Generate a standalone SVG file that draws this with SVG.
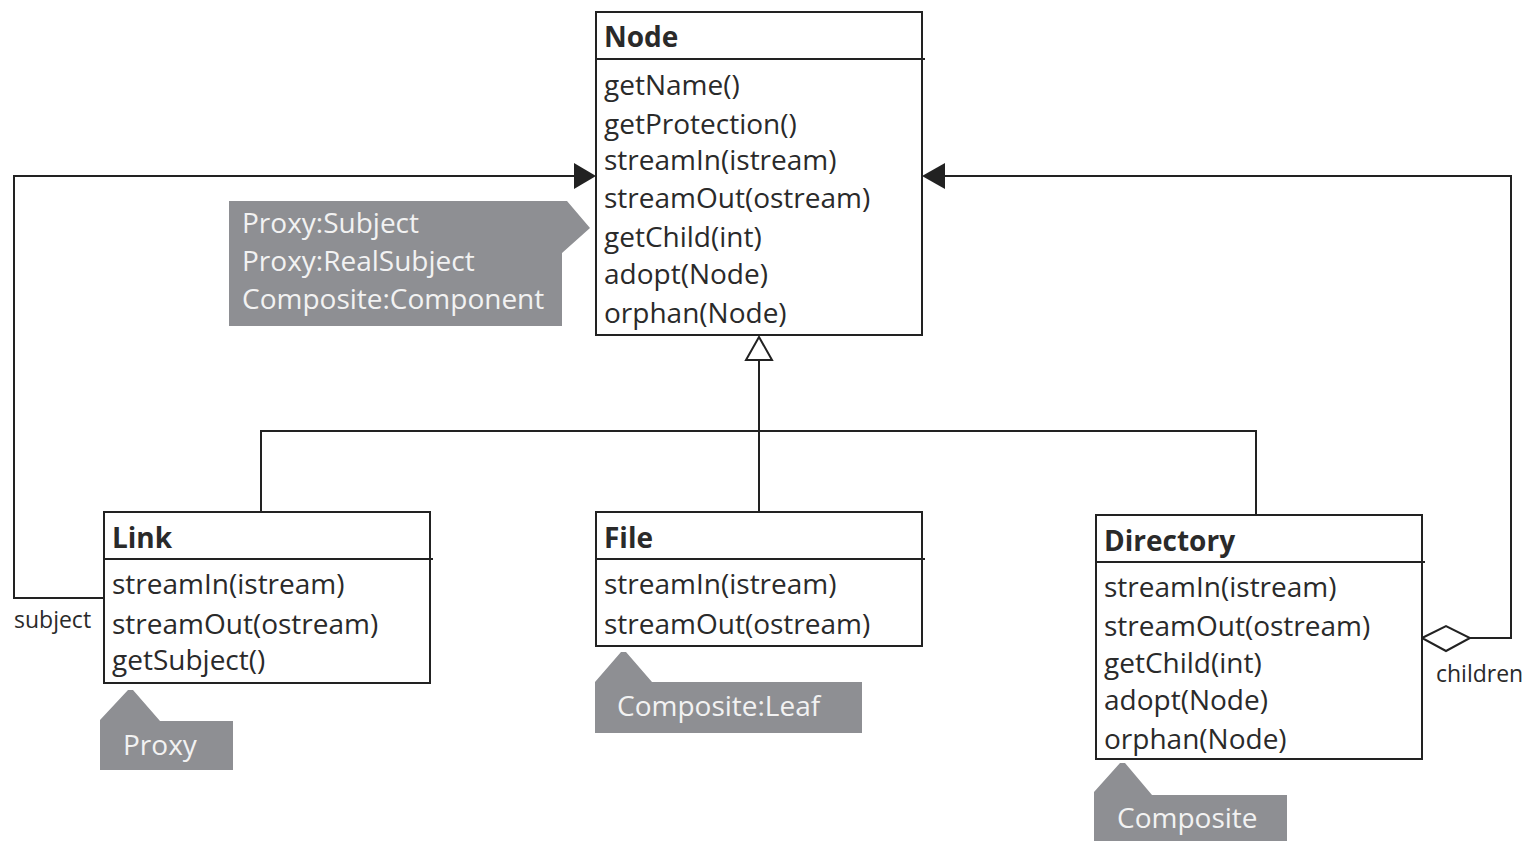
<svg xmlns="http://www.w3.org/2000/svg" width="1532" height="841" viewBox="0 0 1532 841">
<style>
.box{fill:#fff;stroke:#222;stroke-width:2}
.div{stroke:#222;stroke-width:2}
.t{font-family:"Open Sans",sans-serif;font-size:28px;fill:#2a2a2a}
.h{font-family:"Open Sans",sans-serif;font-size:28px;font-weight:bold;fill:#2a2a2a}
.s{font-family:"Open Sans",sans-serif;font-size:23px;fill:#2a2a2a}
.note{fill:#8e8f93}
.nt{font-family:"Open Sans",sans-serif;font-size:28px;fill:#f2f2f2}
.ln{fill:none;stroke:#222;stroke-width:2}
</style>
<rect width="1532" height="841" fill="#fff"/>
<g id="connectors">
<polyline class="ln" points="104,598 14,598 14,176 576,176"/>
<polygon points="574,163 596,176 574,189" fill="#222"/>
<polyline class="ln" points="1470,638 1511,638 1511,176 944,176"/>
<polygon points="945,163 922,176 945,189" fill="#222"/>
<polygon points="1422,638 1446,626 1470,638 1446,651" fill="#fff" stroke="#222" stroke-width="2"/>
<line class="ln" x1="759" y1="360" x2="759" y2="512"/>
<polyline class="ln" points="261,512 261,431 1256,431 1256,515"/>
<polygon points="759,337 746,360 772,360" fill="#fff" stroke="#222" stroke-width="2"/>
<text class="s" x="14" y="628">subject</text>
<text class="s" x="1436" y="682">children</text>
</g>
<g id="node-Node">
<rect class="box" x="596" y="12" width="326" height="323"/>
<line class="div" x1="596" y1="59" x2="925" y2="59"/>
<text class="h" x="604" y="47">Node</text>
<text class="t" x="604" y="95">getName()</text>
<text class="t" x="604" y="134">getProtection()</text>
<text class="t" x="604" y="170">streamIn(istream)</text>
<text class="t" x="604" y="208">streamOut(ostream)</text>
<text class="t" x="604" y="247">getChild(int)</text>
<text class="t" x="604" y="284">adopt(Node)</text>
<text class="t" x="604" y="323">orphan(Node)</text>
</g>
<g id="note-Node">
<polygon class="note" points="229,201 567,201 590,228 562,253 562,326 229,326"/>
<text class="nt" x="242" y="233">Proxy:Subject</text>
<text class="nt" x="242" y="271">Proxy:RealSubject</text>
<text class="nt" x="242" y="309">Composite:Component</text>
</g>
<g id="node-Link">
<rect class="box" x="104" y="512" width="326" height="171"/>
<line class="div" x1="104" y1="559" x2="433" y2="559"/>
<text class="h" x="112" y="548">Link</text>
<text class="t" x="112" y="594">streamIn(istream)</text>
<text class="t" x="112" y="634">streamOut(ostream)</text>
<text class="t" x="112" y="670">getSubject()</text>
</g>
<g id="note-Link">
<polygon class="note" points="100,770 100,720 128,690 133,690 160,721 233,721 233,770"/>
<text class="nt" x="123" y="755">Proxy</text>
</g>
<g id="node-File">
<rect class="box" x="596" y="512" width="326" height="134"/>
<line class="div" x1="596" y1="559" x2="925" y2="559"/>
<text class="h" x="604" y="548">File</text>
<text class="t" x="604" y="594">streamIn(istream)</text>
<text class="t" x="604" y="634">streamOut(ostream)</text>
</g>
<g id="note-File">
<polygon class="note" points="595,733 595,682 621,652 626,652 652,682 862,682 862,733"/>
<text class="nt" x="617" y="716">Composite:Leaf</text>
</g>
<g id="node-Directory">
<rect class="box" x="1096" y="515" width="326" height="244"/>
<line class="div" x1="1096" y1="562" x2="1425" y2="562"/>
<text class="h" x="1104" y="551">Directory</text>
<text class="t" x="1104" y="597">streamIn(istream)</text>
<text class="t" x="1104" y="636">streamOut(ostream)</text>
<text class="t" x="1104" y="673">getChild(int)</text>
<text class="t" x="1104" y="710">adopt(Node)</text>
<text class="t" x="1104" y="749">orphan(Node)</text>
</g>
<g id="note-Directory">
<polygon class="note" points="1094,841 1094,792 1120,763 1125,763 1152,795 1287,795 1287,841"/>
<text class="nt" x="1117" y="828">Composite</text>
</g>
</svg>
